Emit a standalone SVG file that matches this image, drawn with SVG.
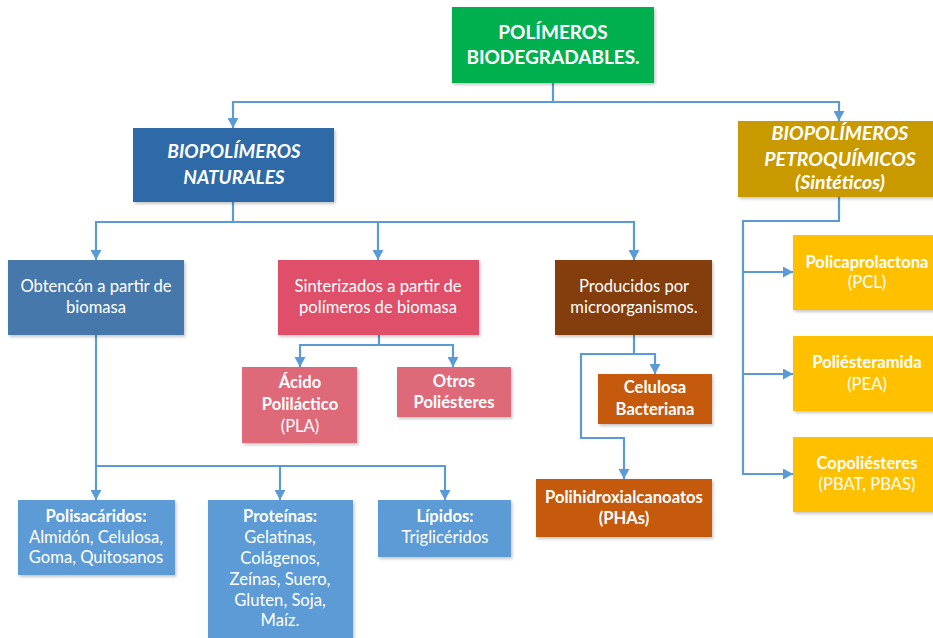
<svg xmlns="http://www.w3.org/2000/svg" width="933" height="638" viewBox="0 0 933 638">
<style>
.c{fill:none;stroke:#5B9BD5;stroke-width:2.2}
.a{marker-end:url(#arr)}
text{font-family:Lato,"Liberation Sans",sans-serif;fill:#fff;text-anchor:middle}
.t{font-size:16.6px}
.b{font-weight:bold}
.i{font-style:italic;font-weight:bold}
.box{filter:url(#sh)}
</style>
<defs>
<marker id="arr" markerUnits="userSpaceOnUse" markerWidth="12" markerHeight="11" refX="10" refY="5.5" orient="auto">
<path d="M0,0 L10,5.5 L0,11 Z" fill="#5B9BD5"/>
</marker>
<filter id="sh" x="-10%" y="-10%" width="125%" height="130%">
<feDropShadow dx="1.5" dy="2" stdDeviation="1.5" flood-color="#000" flood-opacity="0.22"/>
</filter>
</defs>
<rect width="933" height="638" fill="#fff"/>

<g id="connectors">
<path class="c a" d="M553,83 V102 H233 V128"/>
<path class="c a" d="M553,102 H839 V121"/>
<path class="c a" d="M233,202 V222 H96 V260"/>
<path class="c a" d="M233,222 H378 V260"/>
<path class="c a" d="M378,222 H634 V260"/>
<path class="c a" d="M839,197 V221 H743 V474 H793"/>
<path class="c a" d="M743,272 H793"/>
<path class="c a" d="M743,374 H793"/>
<path class="c a" d="M379,335 V345 H300 V367"/>
<path class="c a" d="M379,345 H453 V367"/>
<path class="c a" d="M634,335 V354 H655 V374"/>
<path class="c a" d="M634,354 H581 V438 H624 V479"/>
<path class="c a" d="M96,335 V466 V500"/>
<path class="c a" d="M96,466 H280 V500"/>
<path class="c a" d="M280,466 H445 V500"/>
</g>

<g id="n-root">
<rect class="box" x="452" y="7" width="202" height="76" fill="#00B050"/>
<text class="b" font-size="19" x="553" y="39">POLÍMEROS</text>
<text class="b" font-size="19" x="553" y="64">BIODEGRADABLES.</text>
</g>

<g id="n-naturales">
<rect class="box" x="133" y="128" width="201" height="74" fill="#2E6BA8"/>
<text class="i" font-size="19" x="234" y="158">BIOPOLÍMEROS</text>
<text class="i" font-size="19" x="234" y="184">NATURALES</text>
</g>

<g id="n-petro">
<rect class="box" x="738" y="121" width="197" height="76" fill="#C99A06"/>
<text class="i" font-size="19.5" x="840" y="140">BIOPOLÍMEROS</text>
<text class="i" font-size="19.5" x="840" y="166">PETROQUÍMICOS</text>
<text class="i" font-size="19.5" x="840" y="189">(Sintéticos)</text>
</g>

<g id="n-obtencion">
<rect class="box" x="8" y="260" width="176" height="75" fill="#4778AC"/>
<text class="t" x="96" y="292">Obtencón a partir de</text>
<text class="t" x="96" y="313">biomasa</text>
</g>

<g id="n-sinterizados">
<rect class="box" x="278" y="260" width="201" height="75" fill="#DF4F69"/>
<text class="t" x="378" y="292">Sinterizados a partir de</text>
<text class="t" x="378" y="313">polímeros de biomasa</text>
</g>

<g id="n-producidos">
<rect class="box" x="555" y="260" width="157" height="75" fill="#843C0C"/>
<text class="t" x="634" y="292">Producidos por</text>
<text class="t" x="634" y="313">microorganismos.</text>
</g>

<g id="n-acido">
<rect class="box" x="242" y="367" width="115" height="76" fill="#DE6B79"/>
<text class="t b" x="300" y="388">Ácido</text>
<text class="t b" x="300" y="410">Poliláctico</text>
<text class="t" x="300" y="432">(PLA)</text>
</g>

<g id="n-otros">
<rect class="box" x="397" y="367" width="114" height="50" fill="#DE6B79"/>
<text class="t b" x="454" y="387">Otros</text>
<text class="t b" x="454" y="408">Poliésteres</text>
</g>

<g id="n-celulosa">
<rect class="box" x="598" y="374" width="114" height="50" fill="#C55A11"/>
<text class="t b" x="655" y="393">Celulosa</text>
<text class="t b" x="655" y="415">Bacteriana</text>
</g>

<g id="n-phas">
<rect class="box" x="536" y="479" width="176" height="58" fill="#C55A11"/>
<text class="t b" x="624" y="503">Polihidroxialcanoatos</text>
<text class="t b" x="624" y="524">(PHAs)</text>
</g>

<g id="n-pcl">
<rect class="box" x="793" y="235" width="142" height="75" fill="#FFC000"/>
<text class="t b" x="867" y="268">Policaprolactona</text>
<text class="t" x="867" y="288">(PCL)</text>
</g>

<g id="n-pea">
<rect class="box" x="793" y="336" width="142" height="75" fill="#FFC000"/>
<text class="t b" x="867" y="368">Poliésteramida</text>
<text class="t" x="867" y="390">(PEA)</text>
</g>

<g id="n-copo">
<rect class="box" x="793" y="437" width="142" height="75" fill="#FFC000"/>
<text class="t b" x="867" y="469">Copoliésteres</text>
<text class="t" x="867" y="490">(PBAT, PBAS)</text>
</g>

<g id="n-polisacaridos">
<rect class="box" x="18" y="500" width="157" height="75" fill="#5B9BD5"/>
<text class="t b" x="96" y="522">Polisacáridos:</text>
<text class="t" x="96" y="543">Almidón, Celulosa,</text>
<text class="t" x="96" y="563">Goma, Quitosanos</text>
</g>

<g id="n-proteinas">
<rect class="box" x="208" y="500" width="145" height="145" fill="#5B9BD5"/>
<text class="t b" x="280" y="522">Proteínas:</text>
<text class="t" x="280" y="543">Gelatinas,</text>
<text class="t" x="280" y="564">Colágenos,</text>
<text class="t" x="280" y="585">Zeínas, Suero,</text>
<text class="t" x="280" y="606">Gluten, Soja,</text>
<text class="t" x="280" y="626">Maíz.</text>
</g>

<g id="n-lipidos">
<rect class="box" x="378" y="500" width="133" height="57" fill="#5B9BD5"/>
<text class="t b" x="445" y="522">Lípidos:</text>
<text class="t" x="445" y="543">Triglicéridos</text>
</g>
</svg>
